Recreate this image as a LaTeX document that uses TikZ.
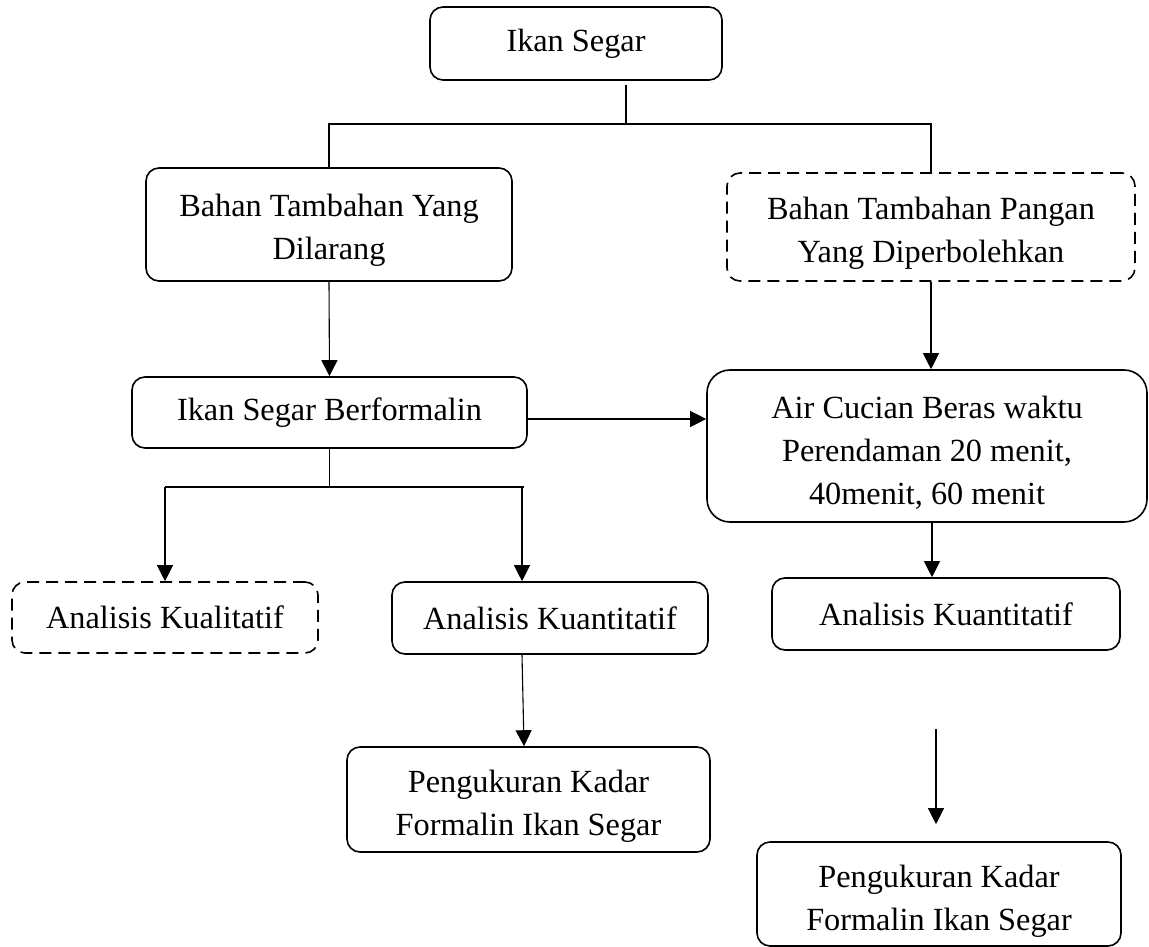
\documentclass[tikz,border=0pt]{standalone}
\usepackage{fontspec}
\setmainfont{Liberation Serif}
\usetikzlibrary{arrows.meta,calc}
\newcommand{\dropA}{\rule{0pt}{34pt}}
\newcommand{\dropB}{\rule{0pt}{36pt}}
\begin{document}
\begin{tikzpicture}[x=1pt,y=-1pt,
  box/.style={draw,line width=1.6pt,rounded corners=13pt,align=center,inner sep=0pt,
    font=\fontsize{32.3}{43}\selectfont},
  dbox/.style={box,dash pattern=on 12pt off 7pt},
  conn/.style={line width=1.1pt},
  arr/.style={conn,-{Triangle[length=16pt,width=16pt]}}]
\useasboundingbox (0,0) rectangle (1149,947);
\node[box,minimum width=292pt,minimum height=73pt] (top) at (576,43.5) {Ikan Segar};
\node[box,minimum width=366pt,minimum height=113pt] (left1) at (329,224.5) {\dropA Bahan Tambahan Yang\\Dilarang};
\node[dbox,minimum width=408pt,minimum height=108pt] (right1) at (931,227) {\dropA Bahan Tambahan Pangan\\Yang Diperbolehkan};
\node[box,minimum width=395pt,minimum height=71pt] (berf) at (329.5,412.5) {Ikan Segar Berformalin};
\node[box,rounded corners=23pt,minimum width=440pt,minimum height=152pt] (air) at (927,446) {\dropB Air Cucian Beras waktu\\Perendaman 20 menit,\\40menit, 60 menit};
\node[dbox,minimum width=306pt,minimum height=71pt] (kual) at (165,617.5) {Analisis Kualitatif};
\node[box,minimum width=316pt,minimum height=72pt] (kuan1) at (550,618) {Analisis Kuantitatif};
\node[box,minimum width=348pt,minimum height=72pt] (kuan2) at (946,614) {Analisis Kuantitatif};
\node[box,minimum width=363pt,minimum height=105pt] (peng1) at (528.5,799.5) {\dropB Pengukuran Kadar\\Formalin Ikan Segar};
\node[box,minimum width=364pt,minimum height=104pt] (peng2) at (939,894) {\dropB Pengukuran Kadar\\Formalin Ikan Segar};
% junctions
\coordinate (j1) at (626,124);
\coordinate (j2) at (327,487);
\coordinate (k1) at (522,487);
\coordinate (k3) at (524,0);
\coordinate (k2) at (932,0);
\coordinate (f1) at (936,729);
% connectors
\draw[conn,shorten <=4pt] (top.south -| j1) -- (j1);
\draw[conn] (left1.north) -- (left1.north |- j1) -- (right1.north |- j1) -- (right1.north);
\draw[arr] (left1.south) -- (berf.north);
\draw[arr] (right1.south) -- (right1.south |- air.north);
\draw[arr] ([yshift=-6.5pt]berf.east) -- ([yshift=-6.5pt]berf.east -| air.west);
\draw[conn] (berf.south) -- (berf.south |- j2);
\draw[conn] (kual.north |- j2) -- ([xshift=2pt]k1);
\draw[arr] (kual.north |- j2) -- (kual.north);
\draw[arr] (k1) -- (k1 |- kuan1.north);
\draw[arr] (air.south -| k2) -- (kuan2.north -| k2);
\draw[arr] (kuan1.south -| k1) -- (peng1.north -| k3);
\draw[arr] (f1) -- ([yshift=17pt]peng2.north -| f1);
\end{tikzpicture}
\end{document}
